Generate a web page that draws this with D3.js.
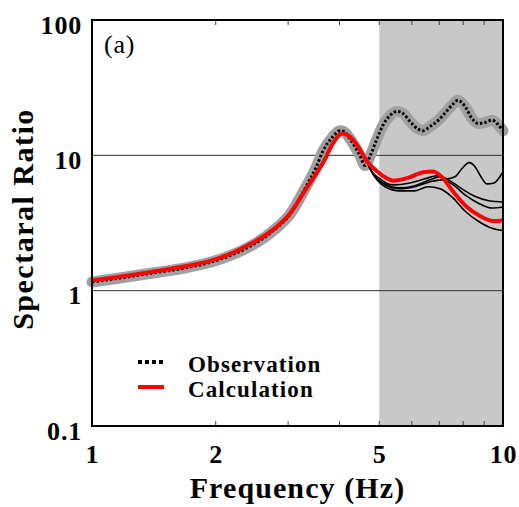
<!DOCTYPE html>
<html>
<head>
<meta charset="utf-8">
<script src="https://cdn.jsdelivr.net/npm/d3@7"></script>
<style>
  body { margin: 0; background: #fff; }
  svg { display: block; }
  text { font-family: "Liberation Serif", "Times New Roman", serif; }
</style>
</head>
<body>
<svg></svg>
<script>
// frequency (Hz) / spectral ratio
let obsFreq = [1.00, 1.17, 1.38, 1.70, 1.94, 2.20, 2.42, 2.75, 3.03, 3.30, 3.50, 3.65, 3.86, 4.01, 4.10, 4.24, 4.49, 4.62, 4.75, 4.94, 5.10, 5.31, 5.52, 5.71, 5.94, 6.18, 6.39, 6.64, 6.91, 7.14, 7.51, 7.77, 8.08, 8.41, 8.69, 9.04, 9.40, 9.67, 10.0]
let obsVal  = [1.16, 1.24, 1.34, 1.48, 1.62, 1.85, 2.12, 2.75, 3.65, 5.7, 8.0, 10.8, 13.8, 15.2, 15.0, 13.3, 9.9, 8.4, 9.9, 13.3, 16.6, 19.7, 21.1, 20.4, 17.8, 15.8, 15.2, 16.3, 17.8, 19.7, 23.4, 25.5, 23.0, 18.7, 17.2, 17.5, 18.2, 17.2, 15.2]

let calcFreq = [1.00, 1.17, 1.38, 1.70, 1.94, 2.20, 2.42, 2.75, 3.03, 3.30, 3.50, 3.65, 3.86, 4.06, 4.20, 4.41, 4.67, 4.94, 5.20, 5.40, 5.94, 6.39, 6.76, 7.14, 7.56, 8.17, 8.79, 9.46, 10.0]
let calcVal  = [1.19, 1.27, 1.37, 1.52, 1.66, 1.90, 2.20, 2.80, 3.70, 5.5, 7.2, 8.8, 12.3, 14.5, 14.0, 12.0, 9.0, 7.6, 6.8, 6.5, 6.9, 7.5, 7.6, 6.8, 5.4, 4.15, 3.56, 3.27, 3.30]

// other calculated cases (thin black)
let case1Freq = [4.41, 4.67, 4.75, 5.02, 5.40, 5.94, 6.46, 6.91, 7.31, 7.64, 7.94, 8.27, 8.55, 8.84, 9.14, 9.51, 10.0]
let case1Val  = [12.0, 9.0, 7.96, 6.71, 6.05, 6.25, 6.71, 7.06, 6.71, 6.94, 7.96, 8.83, 8.24, 6.94, 6.15, 6.25, 7.56]
let case2Freq = [4.41, 4.67, 4.75, 5.16, 5.61, 6.10, 6.64, 7.03, 7.43, 7.94, 8.51, 9.29, 10.0]
let case2Val  = [12.0, 9.0, 7.96, 6.15, 5.75, 5.97, 6.59, 6.94, 6.48, 5.66, 5.01, 4.60, 4.52]
let case3Freq = [4.41, 4.67, 4.75, 5.16, 5.61, 6.10, 6.64, 7.10, 7.51, 8.08, 8.69, 9.40, 10.0]
let case3Val  = [12.0, 9.0, 7.96, 6.05, 5.66, 5.86, 6.37, 6.59, 6.15, 5.10, 4.45, 4.08, 4.15]
let case4Freq = [4.41, 4.67, 4.75, 5.16, 5.61, 6.10, 6.57, 7.03, 7.51, 8.08, 8.69, 9.40, 10.0]
let case4Val  = [12.0, 9.0, 7.96, 5.86, 5.46, 5.46, 5.86, 5.66, 4.93, 3.88, 3.27, 2.89, 2.78]

let xTicks = [1, 2, 5, 10]
let xMinor = [2, 3, 4, 5, 6, 7, 8, 9]
let yTicks = [0.1, 1, 10, 100]
let gridVals = [1, 10]
let shadeRange = [5, 10]
let legendNames = ["Observation", "Calculation"]

let width = 519
let height = 507
let padLeft = 92, padRight = 503, padTop = 20, padBottom = 426

let svg = d3.select("svg").attr("width", width).attr("height", height)

let xScale = d3.scaleLog().domain([1, 10]).range([padLeft, padRight])
let yScale = d3.scaleLog().domain([0.1, 100]).range([padBottom, padTop])

let zip = (fs, vs) => fs.map((f, i) => [f, vs[i]])
let line = d3.line()
  .x(d => xScale(d[0]))
  .y(d => yScale(d[1]))
  .curve(d3.curveMonotoneX)

// shaded band 5-10 Hz
svg.append("rect")
  .attr("x", xScale(shadeRange[0]))
  .attr("y", padTop)
  .attr("width", xScale(shadeRange[1]) - xScale(shadeRange[0]))
  .attr("height", padBottom - padTop)
  .attr("fill", "#c8c8c8")

// horizontal grid at 1 and 10
svg.selectAll(".grid")
  .data(gridVals)
  .enter()
  .append("line")
  .attr("class", "grid")
  .attr("x1", padLeft).attr("x2", padRight)
  .attr("y1", d => yScale(d)).attr("y2", d => yScale(d))
  .attr("stroke", "#333")
  .attr("stroke-width", 1)

let obs = zip(obsFreq, obsVal)
svg.append("path")
  .attr("d", line(obs))
  .attr("fill", "none")
  .attr("stroke", "#a0a0a0")
  .attr("stroke-width", 11)
  .attr("stroke-linecap", "round")
svg.append("path")
  .attr("d", line(obs))
  .attr("fill", "none")
  .attr("stroke", "#000")
  .attr("stroke-width", 3)
  .attr("stroke-dasharray", "2.5,2")

let cases = [zip(case1Freq, case1Val), zip(case2Freq, case2Val), zip(case3Freq, case3Val), zip(case4Freq, case4Val)]
svg.selectAll(".case")
  .data(cases)
  .enter()
  .append("path")
  .attr("class", "case")
  .attr("d", d => line(d))
  .attr("fill", "none")
  .attr("stroke", "#000")
  .attr("stroke-width", 1.6)

svg.append("path")
  .attr("d", line(zip(calcFreq, calcVal)))
  .attr("fill", "none")
  .attr("stroke", "#ff0000")
  .attr("stroke-width", 4)

// minor ticks inside, bottom and top
let tickLen = 5
svg.selectAll(".mtb")
  .data(xMinor)
  .enter()
  .append("line")
  .attr("x1", d => xScale(d)).attr("x2", d => xScale(d))
  .attr("y1", padBottom).attr("y2", padBottom - tickLen)
  .attr("stroke", "#444")
svg.selectAll(".mtt")
  .data(xMinor)
  .enter()
  .append("line")
  .attr("x1", d => xScale(d)).attr("x2", d => xScale(d))
  .attr("y1", padTop).attr("y2", padTop + tickLen)
  .attr("stroke", "#444")

// frame
svg.append("rect")
  .attr("x", padLeft).attr("y", padTop)
  .attr("width", padRight - padLeft).attr("height", padBottom - padTop)
  .attr("fill", "none")
  .attr("stroke", "#000")
  .attr("stroke-width", 2)

// axes labels
let xAxis = d3.axisBottom(xScale).tickValues(xTicks).tickFormat(d3.format("d")).tickSize(0).tickPadding(19)
let yAxis = d3.axisLeft(yScale).tickValues(yTicks).tickFormat(d => d < 1 ? "0.1" : d3.format("d")(d)).tickSize(0).tickPadding(10)

let gx = svg.append("g")
  .attr("transform", "translate(0," + padBottom + ")")
  .call(xAxis)
let gy = svg.append("g")
  .attr("transform", "translate(" + padLeft + ",0)")
  .call(yAxis)
;[gx, gy].forEach(g => {
  g.select(".domain").remove()
  g.selectAll("text")
    .attr("font-family", "Liberation Serif")
    .attr("font-weight", "bold")
    .attr("font-size", 26)
    .attr("letter-spacing", 0.8)
    .attr("fill", "#000")
})
gy.selectAll("text").attr("dy", "0.5em")

svg.append("text")
  .attr("x", (padLeft + padRight) / 2)
  .attr("y", 498)
  .attr("text-anchor", "middle")
  .attr("font-weight", "bold")
  .attr("font-size", 30)
  .attr("letter-spacing", 1.1)
  .text("Frequency (Hz)")

svg.append("text")
  .attr("transform", "translate(33," + ((padTop + padBottom) / 2 - 4) + ") rotate(-90)")
  .attr("text-anchor", "middle")
  .attr("font-weight", "bold")
  .attr("font-size", 30)
  .attr("letter-spacing", 1.5)
  .text("Spectaral Ratio")

svg.append("text")
  .attr("x", 104)
  .attr("y", 53)
  .attr("font-size", 26)
  .attr("letter-spacing", 0.8)
  .text("(a)")

// legend
let legend = svg.append("g")
legend.append("line")
  .attr("x1", 138).attr("x2", 164).attr("y1", 362).attr("y2", 362)
  .attr("stroke", "#000").attr("stroke-width", 4).attr("stroke-dasharray", "4,3")
legend.append("line")
  .attr("x1", 138).attr("x2", 164).attr("y1", 387).attr("y2", 387)
  .attr("stroke", "#ff0000").attr("stroke-width", 4)
legend.selectAll("text")
  .data(legendNames)
  .enter()
  .append("text")
  .attr("x", 188)
  .attr("y", (d, i) => 372 + i * 25)
  .attr("font-weight", "bold")
  .attr("font-size", 23)
  .attr("letter-spacing", 1.1)
  .text(d => d)
</script>
</body>
</html>
